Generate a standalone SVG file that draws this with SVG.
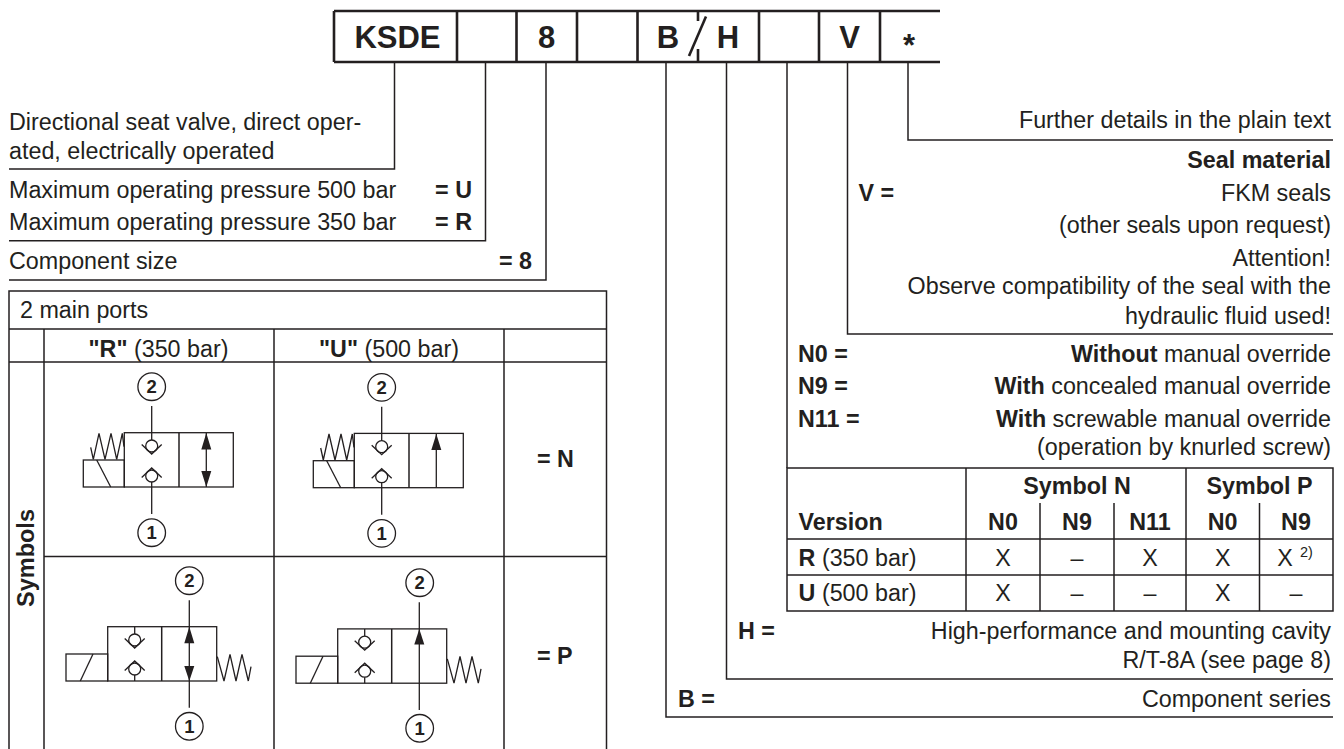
<svg xmlns="http://www.w3.org/2000/svg" xmlns:xlink="http://www.w3.org/1999/xlink" width="1344" height="749" viewBox="0 0 1344 749">
<style>
text{font-family:"Liberation Sans",Arial,sans-serif;font-size:23.3px;fill:#231f20}
.b{font-weight:700}
.e{text-anchor:end}
.m{text-anchor:middle}
.h{font-size:31px;font-weight:700;text-anchor:middle}
.d{font-size:18.5px;font-weight:700;text-anchor:middle}
.l{fill:none;stroke:#231f20;stroke-width:1.5}
.t{fill:none;stroke:#231f20;stroke-width:2.6}
.c{fill:none;stroke:#231f20;stroke-width:1.3}
.a{fill:#231f20;stroke:none}
</style>
<defs>
<g id="check">
<circle cx="0" cy="0" r="6" class="c"/>
<path d="M-10,-1.5 L0,8 L10,-1.5" class="c"/>
</g>
<g id="checkUp">
<circle cx="0" cy="0" r="6" class="c"/>
<path d="M-10,1.5 L0,-8 L10,1.5" class="c"/>
</g>
<g id="n-body">
<rect x="124.3" y="432.7" width="109" height="54.3" class="c"/>
<path d="M179,432.7V487" class="l"/>
<rect x="83.3" y="460" width="41" height="27" class="c"/>
<path d="M96.7,460L110.7,487" class="c"/>
<path d="M90.7,447.3L93.3,459.3L99,433.3L105,459.3L111,433.3L116.7,459.3L122.3,433.3L124,446.7" class="c"/>
<use xlink:href="#check" href="#check" x="151.7" y="446"/>
<use xlink:href="#checkUp" href="#checkUp" x="151.7" y="476"/>
<path d="M151.7,406V440M151.7,482V514" class="c"/>
<circle cx="151.7" cy="386.7" r="13.8" class="c"/>
<circle cx="151.7" cy="532.7" r="13.8" class="c"/>
</g>
<g id="p-body">
<rect x="107.7" y="626.7" width="109" height="54.3" class="c"/>
<path d="M161.7,626.7V681" class="l"/>
<rect x="66" y="654" width="41.7" height="27" class="c"/>
<path d="M93,654L80.3,681" class="c"/>
<path d="M217.3,656.7L224,681L230,654.3L236,681L242,654.3L248.3,681L251,666.7" class="c"/>
<use xlink:href="#check" href="#check" x="134.7" y="640"/>
<use xlink:href="#checkUp" href="#checkUp" x="134.7" y="669"/>
<path d="M134.7,626.7V634M134.7,675V681" class="c"/>
</g>
</defs>

<g id="connectors">
<path d="M334,62H940M334,11H940" class="t"/>
<path d="M394.5,62V169H9" class="l"/>
<path d="M485.5,62V240.7H9" class="l"/>
<path d="M546,62V280H9" class="l"/>
<path d="M666,62V717H1333" class="l"/>
<path d="M726.5,62V679H1333" class="l"/>
<path d="M787,62V468" class="l"/>
<path d="M847.5,62V334H1333" class="l"/>
<path d="M908,62V140H1333" class="l"/>
</g>

<g id="code-box">
<path d="M334,11V62M457,11V62M516.5,11V62M577,11V62M637.5,11V62M759,11V62M819,11V62M880,11V62M698,11V21M698,49V62" class="t"/>
<path d="M706,16.5L689,56" class="t"/>
<text x="397.5" y="47.7" class="h">KSDE</text>
<text x="546.5" y="47.7" class="h">8</text>
<text x="668" y="47.7" class="h">B</text>
<text x="728" y="47.7" class="h">H</text>
<text x="849.5" y="47.7" class="h">V</text>
<text x="909" y="55.5" class="h">*</text>
</g>

<g id="left-labels">
<text x="9" y="130">Directional seat valve, direct oper-</text>
<text x="9" y="159">ated, electrically operated</text>
<text x="9" y="198">Maximum operating pressure 500 bar</text>
<text x="472" y="198" class="b e">= U</text>
<text x="9" y="230">Maximum operating pressure 350 bar</text>
<text x="472" y="230" class="b e">= R</text>
<text x="9" y="269">Component size</text>
<text x="532" y="269" class="b e">= 8</text>
</g>

<g id="symbol-table">
<path d="M9,749V291H606.5V749M9,329H606.5M9,362H606.5M44,556.5H606.5M44,329V749M274,329V749M504,329V749" class="l"/>
<text x="20" y="318">2 main ports</text>
<text x="158.5" y="357" class="m"><tspan class="b">"R"</tspan> (350 bar)</text>
<text x="389" y="357" class="m"><tspan class="b">"U"</tspan> (500 bar)</text>
<text transform="translate(34,607) rotate(-90)" class="b" style="font-size:23.5px">Symbols</text>
<text x="537" y="467" class="b">= N</text>
<text x="537" y="664" class="b">= P</text>
</g>

<g id="symbol-n-r">
<use xlink:href="#n-body" href="#n-body"/>
<path d="M206.3,433V487" class="c"/>
<path d="M206.3,433L211.3,449.5H201.3ZM206.3,487L211.3,471H201.3Z" class="a"/>
<text x="151.7" y="393.3" class="d">2</text>
<text x="151.7" y="539.3" class="d">1</text>
</g>
<g id="symbol-n-u">
<use xlink:href="#n-body" href="#n-body" x="230" y="0.7"/>
<path d="M436.3,434V487.7" class="c"/>
<path d="M436.3,434L441.3,450H431.3Z" class="a"/>
<text x="381.7" y="394" class="d">2</text>
<text x="381.7" y="540" class="d">1</text>
</g>
<g id="symbol-p-r">
<use xlink:href="#p-body" href="#p-body"/>
<path d="M189.3,600.3V707.7" class="c"/>
<path d="M189.3,626.7L194.3,643.3H184.3ZM189.3,681L194.3,666H184.3Z" class="a"/>
<circle cx="189.3" cy="580.7" r="13.8" class="c"/>
<circle cx="189.3" cy="726.3" r="13.8" class="c"/>
<text x="189.3" y="587.3" class="d">2</text>
<text x="189.3" y="733" class="d">1</text>
</g>
<g id="symbol-p-u">
<use xlink:href="#p-body" href="#p-body" x="230" y="2.2"/>
<path d="M419.3,602.3V710" class="c"/>
<path d="M419.3,629L424.3,644.5H414.3Z" class="a"/>
<circle cx="419.7" cy="582.7" r="13.8" class="c"/>
<circle cx="419.7" cy="728.3" r="13.8" class="c"/>
<text x="419.7" y="589.3" class="d">2</text>
<text x="419.7" y="735" class="d">1</text>
</g>

<g id="right-labels">
<text x="1331" y="128" class="e">Further details in the plain text</text>
<text x="1331" y="168" class="b e">Seal material</text>
<text x="858.5" y="201" class="b">V =</text>
<text x="1331" y="201" class="e">FKM seals</text>
<text x="1331" y="233" class="e">(other seals upon request)</text>
<text x="1331" y="266" class="e">Attention!</text>
<text x="1331" y="294" class="e">Observe compatibility of the seal with the</text>
<text x="1331" y="324" class="e">hydraulic fluid used!</text>
<text x="798" y="362" class="b">N0 =</text>
<text x="1331" y="362" class="e"><tspan class="b">Without</tspan> manual override</text>
<text x="798" y="394" class="b">N9 =</text>
<text x="1331" y="394" class="e"><tspan class="b">With</tspan> concealed manual override</text>
<text x="798" y="427" class="b">N11 =</text>
<text x="1331" y="427" class="e"><tspan class="b">With</tspan> screwable manual override</text>
<text x="1331" y="455" class="e">(operation by knurled screw)</text>
<text x="738" y="639" class="b">H =</text>
<text x="1331" y="639" class="e">High-performance and mounting cavity</text>
<text x="1331" y="668" class="e">R/T-8A (see page 8)</text>
<text x="678" y="707" class="b">B =</text>
<text x="1331" y="707" class="e">Component series</text>
</g>

<g id="version-table">
<path d="M787,468H1333V611H787ZM787,539H1333M787,575H1333M966,468V611M1186,468V611M1040,503V611M1114,503V611M1259.5,503V611" class="l"/>
<text x="1077" y="494" class="b m">Symbol N</text>
<text x="1259.5" y="494" class="b m">Symbol P</text>
<text x="798.6" y="530" class="b">Version</text>
<text x="1003" y="530" class="b m">N0</text>
<text x="1077" y="530" class="b m">N9</text>
<text x="1150" y="530" class="b m">N11</text>
<text x="1222.7" y="530" class="b m">N0</text>
<text x="1296" y="530" class="b m">N9</text>
<text x="798.6" y="566"><tspan class="b">R</tspan> (350 bar)</text>
<text x="1003" y="566" class="m">X</text>
<text x="1077" y="566" class="m">–</text>
<text x="1150" y="566" class="m">X</text>
<text x="1222.7" y="566" class="m">X</text>
<text x="1285" y="566" class="m">X</text>
<text x="1300" y="557" style="font-size:14.5px">2)</text>
<text x="798.6" y="601"><tspan class="b">U</tspan> (500 bar)</text>
<text x="1003" y="601" class="m">X</text>
<text x="1077" y="601" class="m">–</text>
<text x="1150" y="601" class="m">–</text>
<text x="1222.7" y="601" class="m">X</text>
<text x="1296" y="601" class="m">–</text>
</g>
</svg>
